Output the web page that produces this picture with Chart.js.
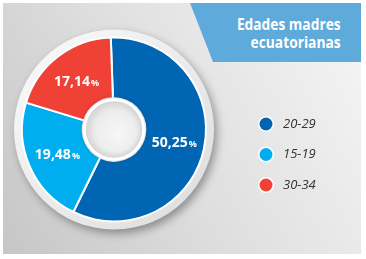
<!DOCTYPE html>
<html>
<head>
<meta charset="utf-8">
<script src="https://cdn.jsdelivr.net/npm/chart.js@4.4.1/dist/chart.umd.min.js"></script>
<style>
  html, body { margin: 0; padding: 0; background: #fff; }
  #wrap { position: relative; width: 366px; height: 259px; overflow: hidden; }
  #card {
    position: absolute; left: 3px; top: 3px; width: 358px; height: 251px;
    background: linear-gradient(60deg, #c6c6c6 0%, #dedede 45%, #f6f6f6 100%);
  }
  #banner {
    position: absolute; left: 190px; top: 3px; width: 171px; height: 59px;
    background: #5eaadb;
    clip-path: polygon(0 0, 100% 0, 100% 100%, 23px 100%);
  }
  #title {
    position: absolute; right: 25px; top: 15px;
    font-family: "Open Sans", sans-serif; font-weight: bold; font-size: 16px;
    line-height: 18px; color: #fff; text-align: right;
    transform: scaleX(0.86); transform-origin: right center;
  }
  canvas { position: absolute; left: 0; top: 0; }
</style>
</head>
<body>
<div id="wrap">
  <div id="card"></div>
  <div id="banner"></div>
  <div id="title">Edades madres<br>ecuatorianas</div>
  <canvas id="edades" width="366" height="259"></canvas>
</div>
<script>
var labels = ['20-29', '15-19', '30-34'];
var values = [50.25, 19.48, 17.14];
var colors = ['#0066b3', '#00aeef', '#ef4136'];

// plato blanco con sombra detras de la dona
var plato = {
  id: 'plato',
  beforeDatasetsDraw: function (chart) {
    var arc = chart.getDatasetMeta(0).data[0];
    var ctx = chart.ctx;
    var r = arc.outerRadius + 8;
    ctx.save();
    var g = ctx.createLinearGradient(arc.x - r, arc.y - r, arc.x + r, arc.y + r);
    g.addColorStop(0, '#fbfbfb');
    g.addColorStop(1, '#dcdcdc');
    ctx.shadowColor = 'rgba(0,0,0,0.35)';
    ctx.shadowBlur = 8;
    ctx.shadowOffsetX = 3;
    ctx.shadowOffsetY = 4;
    ctx.beginPath();
    ctx.arc(arc.x, arc.y, r, 0, Math.PI * 2);
    ctx.fillStyle = g;
    ctx.fill();
    ctx.restore();
  },
  afterDatasetsDraw: function (chart) {
    var meta = chart.getDatasetMeta(0);
    var arc = meta.data[0];
    var ctx = chart.ctx;
    // hueco central
    ctx.save();
    ctx.shadowColor = 'rgba(0,0,0,0.25)';
    ctx.shadowBlur = 4;
    ctx.beginPath();
    ctx.arc(arc.x, arc.y, arc.innerRadius, 0, Math.PI * 2);
    ctx.fillStyle = '#ffffff';
    ctx.fill();
    ctx.restore();
    ctx.save();
    var ri = arc.innerRadius - 3;
    var g = ctx.createRadialGradient(arc.x + 6, arc.y + 6, 2, arc.x, arc.y, ri);
    g.addColorStop(0, '#f6f6f6');
    g.addColorStop(0.7, '#ededed');
    g.addColorStop(1, '#d4d4d4');
    ctx.beginPath();
    ctx.arc(arc.x, arc.y, ri, 0, Math.PI * 2);
    ctx.fillStyle = g;
    ctx.fill();

    // etiquetas de porcentaje
    ctx.fillStyle = '#ffffff';
    ctx.textBaseline = 'alphabetic';
    meta.data.forEach(function (el, i) {
      var p = el.tooltipPosition();
      var num = values[i].toFixed(2).replace('.', ',');
      ctx.font = 'bold 14px "Open Sans"';
      var w1 = ctx.measureText(num).width;
      ctx.font = 'bold 9px "Open Sans"';
      var w2 = ctx.measureText('%').width + 1;
      var x = p.x - (w1 + w2) / 2;
      ctx.font = 'bold 14px "Open Sans"';
      ctx.textAlign = 'left';
      ctx.fillText(num, x, p.y + 5);
      ctx.font = 'bold 9px "Open Sans"';
      ctx.fillText('%', x + w1 + 1, p.y + 5);
    });
    ctx.restore();
  }
};

// leyenda a la derecha
var leyenda = {
  id: 'leyenda',
  afterDraw: function (chart) {
    var ctx = chart.ctx;
    var ds = chart.data.datasets[0];
    ctx.save();
    chart.data.labels.forEach(function (lab, i) {
      var y = 124 + i * 30.5;
      ctx.beginPath();
      ctx.arc(266, y, 8, 0, Math.PI * 2);
      ctx.fillStyle = '#ffffff';
      ctx.fill();
      ctx.beginPath();
      ctx.arc(266, y, 6.5, 0, Math.PI * 2);
      ctx.fillStyle = ds.backgroundColor[i];
      ctx.fill();
      ctx.fillStyle = '#333333';
      ctx.font = 'italic 13px "Open Sans"';
      ctx.textAlign = 'left';
      ctx.textBaseline = 'middle';
      ctx.fillText(lab, 283, y);
    });
    ctx.restore();
  }
};

var ctx = document.getElementById('edades').getContext('2d');
var grafico = new Chart(ctx, {
  type: 'doughnut',
  data: {
    labels: labels,
    datasets: [{
      data: values,
      backgroundColor: colors,
      borderColor: '#ffffff',
      borderWidth: 2
    }]
  },
  options: {
    responsive: false,
    animation: false,
    devicePixelRatio: 1,
    radius: 92,
    cutout: '34%',
    rotation: -2,
    layout: { padding: { left: 0, right: 138, top: 0, bottom: 0 } },
    plugins: {
      legend: { display: false },
      tooltip: { enabled: false }
    }
  },
  plugins: [plato, leyenda]
});
</script>
</body>
</html>
